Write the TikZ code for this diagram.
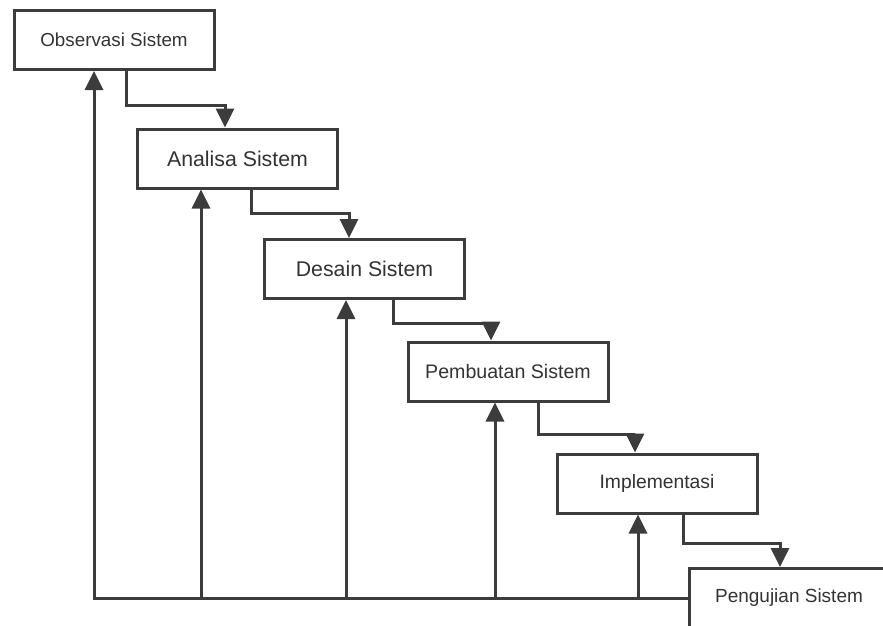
\documentclass[tikz,border=0pt]{standalone}
\usepackage{fontspec}
\setmainfont{Liberation Sans}
\usetikzlibrary{arrows.meta}
\definecolor{ln}{HTML}{3C3C3C}
\definecolor{tx}{HTML}{333333}
\begin{document}
\begin{tikzpicture}[x=1pt,y=-1pt,
  box/.style={draw=ln,line width=3pt,fill=white,minimum width=200pt,minimum height=59pt,inner sep=0pt,text=tx},
  conn/.style={draw=ln,line width=3pt},
  arr/.style={conn,-{Triangle[length=19pt,width=18pt]}}]
\clip (0,0) rectangle (883,626);
\fill[white] (0,0) rectangle (883,626);
\node[box,font=\fontsize{18.8}{22}\selectfont] (obs) at (114,40) {Observasi Sistem};
\node[box,font=\fontsize{21.3}{25}\selectfont] (ana) at (237.5,158.5) {Analisa Sistem};
\node[box,font=\fontsize{21.3}{25}\selectfont] (des) at (364.5,269) {Desain Sistem};
\node[box,font=\fontsize{19.6}{23}\selectfont] (pem) at (508,371.5) {Pembuatan Sistem};
\node[box,font=\fontsize{19.3}{23}\selectfont] (imp) at (657,483.5) {Implementasi};
\node[box,font=\fontsize{19}{23}\selectfont] (pen) at (789,598) {Pengujian Sistem};
% forward flow
\draw[arr] ([xshift=12pt]obs.south) -- ++(0,34) -| ([xshift=-12.5pt]ana.north);
\draw[arr] ([xshift=13.5pt]ana.south) -- ++(0,24) -| ([xshift=-15.5pt]des.north);
\draw[arr] ([xshift=28.5pt]des.south) -- ++(0,23) -| ([xshift=-17pt]pem.north);
\draw[arr] ([xshift=30pt]pem.south) -- ++(0,32) -| ([xshift=-22pt]imp.north);
\draw[arr] ([xshift=26pt]imp.south) -- ++(0,29) -| ([xshift=-9pt]pen.north);
% feedback
\coordinate (b0) at ([xshift=-20pt]obs.south);
\coordinate (b1) at ([xshift=-36.5pt]ana.south);
\coordinate (b2) at ([xshift=-18.5pt]des.south);
\coordinate (b3) at ([xshift=-13pt]pem.south);
\coordinate (b4) at ([xshift=-19pt]imp.south);
\draw[arr] (pen.west) -- (b0 |- pen.west) -- (b0);
\draw[arr] (b1 |- pen.west) -- (b1);
\draw[arr] (b2 |- pen.west) -- (b2);
\draw[arr] (b3 |- pen.west) -- (b3);
\draw[arr] (b4 |- pen.west) -- (b4);
\end{tikzpicture}
\end{document}
